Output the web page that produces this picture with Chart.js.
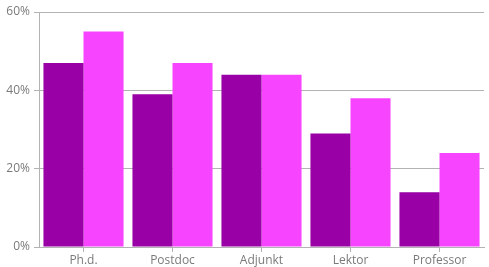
<!DOCTYPE html>
<html>
<head>
<meta charset="utf-8">
<script src="https://cdn.jsdelivr.net/npm/chart.js@4"></script>
<style>
  html, body { margin: 0; padding: 0; background: #fff; }
  #wrap { position: relative; width: 489px; height: 267px; }
</style>
</head>
<body>
<div id="wrap"><canvas id="myChart" width="489" height="267"></canvas></div>
<script>
const categories = ['Ph.d.', 'Postdoc', 'Adjunkt', 'Lektor', 'Professor'];
const seriesA = [47, 39, 44, 29, 14];
const seriesB = [55, 47, 44, 38, 24];
const yTicks = [0, 20, 40, 60];

const gridColor = '#b3b3b3';
const tickColor = '#7a7a7a';

const ctx = document.getElementById('myChart').getContext('2d');
new Chart(ctx, {
  type: 'bar',
  data: {
    labels: categories,
    datasets: [
      { label: 'A', data: seriesA, backgroundColor: '#9900a6', barPercentage: 1, categoryPercentage: 0.9 },
      { label: 'B', data: seriesB, backgroundColor: '#f745ff', barPercentage: 1, categoryPercentage: 0.9 }
    ]
  },
  options: {
    responsive: false,
    animation: false,
    layout: { padding: { top: 12, right: 5, left: 0, bottom: 0 } },
    plugins: { legend: { display: false }, tooltip: { enabled: false } },
    scales: {
      x: {
        grid: { drawOnChartArea: false, offset: false, color: gridColor, tickLength: 5 },
        border: { color: gridColor },
        ticks: { color: tickColor, font: { family: 'Open Sans', size: 12 }, padding: 1 },
        afterFit: s => { s.height = 20; }
      },
      y: {
        min: 0,
        max: 60,
        afterBuildTicks: s => { s.ticks = yTicks.map(v => ({ value: v })); },
        grid: { color: gridColor, tickLength: 5 },
        border: { color: gridColor },
        ticks: { color: tickColor, font: { family: 'Open Sans', size: 12 }, padding: 4, callback: v => v + '%' },
        afterFit: s => { s.width = 39; }
      }
    }
  }
});
</script>
</body>
</html>
